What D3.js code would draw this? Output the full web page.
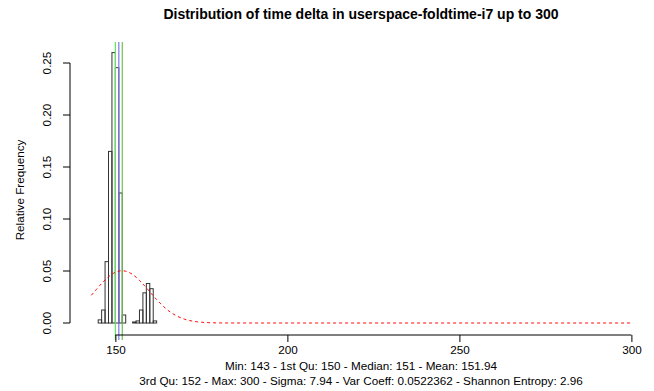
<!DOCTYPE html>
<html>
<head>
<meta charset="utf-8">
<script src="https://cdn.jsdelivr.net/npm/d3@7"></script>
<style>
  body { margin: 0; background: #fff; }
  text { font-family: "Liberation Sans", Arial, Helvetica, sans-serif; fill: #000; }
</style>
</head>
<body>
<div id="chart"></div>
<script>
// Histogram bins: right edge of each (k-1, k] bin and its relative frequency
const binFirst = 143;
const binLast = 300;
const binRight = [144, 145, 146, 147, 148, 149, 150, 151, 152, 153, 154, 155, 156, 157, 158, 159, 160, 161, 162];
const relFreq = [0, 0, 0.003, 0.0125, 0.059, 0.165, 0.26, 0.2455, 0.125, 0.0077, 0, 0, 0.001, 0.002, 0.0125, 0.029, 0.038, 0.033, 0.002];

// Summary statistics shown under the chart
const statMean = 151.94;
const statSigma = 7.94;
const quantileLines = [
  { value: 150, color: '#5ee85e' },   // 1st Qu
  { value: 151, color: '#7a7af0' },   // median
  { value: 152, color: '#6cc04a' }    // 3rd Qu / mean
];

const xTicks = [150, 200, 250, 300];
const yTicks = [0, 0.05, 0.10, 0.15, 0.20, 0.25];

const titleText = 'Distribution of time delta in userspace-foldtime-i7 up to 300';
const statLines = [
  'Min: 143 - 1st Qu: 150 - Median: 151 - Mean: 151.94',
  '3rd Qu: 152 - Max: 300 - Sigma: 7.94 - Var Coeff: 0.0522362 - Shannon Entropy: 2.96'
];

const W = 654, H = 391;
const plot = { left: 69.7, right: 653, top: 42, bottom: 340 };
const fontSize = '11.7px';

const svg = d3.select('#chart')
  .append('svg')
  .attr('width', W)
  .attr('height', H);

// Escalas
const x = d3.scaleLinear().domain([136.72, 306.28]).range([plot.left, plot.right]);
const y = d3.scaleLinear().domain([0, 0.25]).range([323, 63]);

// Full list of bins, zero where nothing was drawn
const freqByBin = new Map(binRight.map((b, i) => [b, relFreq[i]]));
const allBins = d3.range(binFirst + 1, binLast + 1).map((b) => ({ right: b, f: freqByBin.get(b) || 0 }));

svg.append('g')
  .selectAll('rect')
  .data(allBins)
  .enter()
  .append('rect')
  .attr('x', (d) => x(d.right - 1))
  .attr('y', (d) => y(d.f))
  .attr('width', (d) => x(d.right) - x(d.right - 1))
  .attr('height', (d) => y(0) - y(d.f))
  .attr('fill', 'none')
  .attr('stroke', '#333')
  .attr('stroke-width', 1);

// Vertical lines for quantiles
svg.append('g')
  .selectAll('line')
  .data(quantileLines)
  .enter()
  .append('line')
  .attr('x1', (d) => x(d.value))
  .attr('x2', (d) => x(d.value))
  .attr('y1', plot.top)
  .attr('y2', plot.bottom)
  .attr('stroke', (d) => d.color)
  .attr('stroke-width', 1.2);

// Normal curve fitted with the stated mean and sigma
const curveX = d3.range(binFirst, binLast + 0.001, 0.5);
const normal = (v) => Math.exp(-0.5 * ((v - statMean) / statSigma) ** 2) / (statSigma * Math.sqrt(2 * Math.PI));
svg.append('path')
  .datum(curveX)
  .attr('d', d3.line().x((v) => x(v)).y((v) => y(normal(v))))
  .attr('fill', 'none')
  .attr('stroke', '#f00')
  .attr('stroke-width', 1)
  .attr('stroke-dasharray', '3,3');

// Eje X
const xAxis = svg.append('g')
  .attr('transform', 'translate(0,335)')
  .call(d3.axisBottom(x).tickValues(xTicks).tickSize(7).tickPadding(4).tickFormat(d3.format('d')));
xAxis.select('.domain').remove();
xAxis.append('line')
  .attr('x1', x(xTicks[0])).attr('x2', x(xTicks[xTicks.length - 1]))
  .attr('stroke', '#000');
xAxis.selectAll('.tick line').attr('stroke', '#000');
xAxis.selectAll('.tick text')
  .style('font-size', fontSize)
  .style('font-family', '"Liberation Sans", Arial, sans-serif');

// Eje Y
const yAxis = svg.append('g').attr('transform', 'translate(70,0)');
yAxis.append('line')
  .attr('y1', y(yTicks[0])).attr('y2', y(yTicks[yTicks.length - 1]))
  .attr('stroke', '#000');
yAxis.selectAll('.tick')
  .data(yTicks)
  .enter()
  .append('line')
  .attr('x1', 0).attr('x2', -7)
  .attr('y1', (d) => y(d)).attr('y2', (d) => y(d))
  .attr('stroke', '#000');
yAxis.selectAll('text')
  .data(yTicks)
  .enter()
  .append('text')
  .attr('transform', (d) => `translate(-19,${y(d)}) rotate(-90)`)
  .attr('text-anchor', 'middle')
  .style('font-size', fontSize)
  .text((d) => d3.format('.2f')(d));

// Títulos
svg.append('text')
  .attr('x', 361)
  .attr('y', 19)
  .attr('text-anchor', 'middle')
  .style('font-size', '14px')
  .style('font-weight', 'bold')
  .text(titleText);

svg.append('text')
  .attr('transform', 'translate(24,190) rotate(-90)')
  .attr('text-anchor', 'middle')
  .style('font-size', fontSize)
  .text('Relative Frequency');

svg.selectAll('.stat')
  .data(statLines)
  .enter()
  .append('text')
  .attr('class', 'stat')
  .attr('x', 361)
  .attr('y', (d, i) => 370 + i * 15)
  .attr('text-anchor', 'middle')
  .style('font-size', fontSize)
  .text((d) => d);
</script>
</body>
</html>
